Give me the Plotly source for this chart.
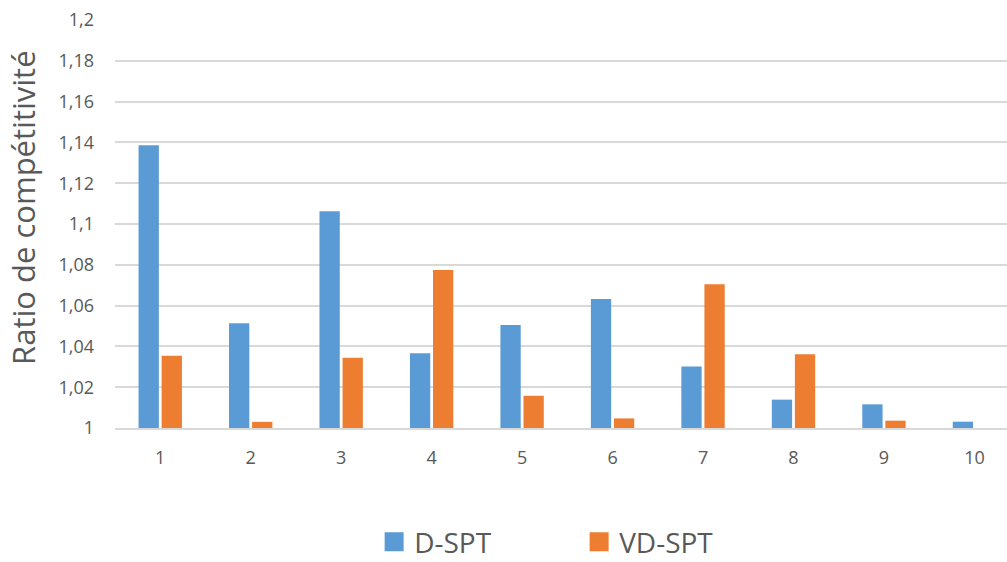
import plotly.graph_objects as go

categories = ["1", "2", "3", "4", "5", "6", "7", "8", "9", "10"]
d_spt = [1.1386, 1.0514, 1.1063, 1.0366, 1.0505, 1.0632, 1.0302, 1.0139, 1.0116, 1.0031]
vd_spt = [1.0354, 1.0030, 1.0344, 1.0775, 1.0158, 1.0047, 1.0705, 1.0361, 1.0036, 1.0]
y_ticks = [1.0, 1.02, 1.04, 1.06, 1.08, 1.1, 1.12, 1.14, 1.16, 1.18, 1.2]
y_ticktext = ["1", "1,02", "1,04", "1,06", "1,08", "1,1", "1,12", "1,14", "1,16", "1,18", "1,2"]
series_names = ["D-SPT", "VD-SPT"]
y_title = "Ratio de compétitivité"

BLUE = "#5B9BD5"
ORANGE = "#ED7D31"
GREY = "#595959"
FONT = "Open Sans, Liberation Sans, sans-serif"

fig = go.Figure()
fig.add_trace(go.Bar(x=categories, y=[v - 1 for v in d_spt], base=1, name=series_names[0],
                     marker=dict(color=BLUE, line=dict(width=0)), showlegend=False))
fig.add_trace(go.Bar(x=categories, y=[v - 1 for v in vd_spt], base=1, name=series_names[1],
                     marker=dict(color=ORANGE, line=dict(width=0)), showlegend=False))
# legend entries with larger square swatches
for nm, col in zip(series_names, [BLUE, ORANGE]):
    fig.add_trace(go.Scatter(x=[None], y=[None], mode="markers", name=nm,
                             marker=dict(symbol="square", size=16, color=col,
                                         line=dict(color=col, width=3))))

fig.update_layout(
    width=1007, height=562,
    margin=dict(l=115, r=0, t=20, b=134, autoexpand=False),
    paper_bgcolor="white", plot_bgcolor="white",
    barmode="group", bargap=0.49, bargroupgap=0.12,
    font=dict(family=FONT, color=GREY),
    showlegend=True,
    legend=dict(orientation="h", x=0.2905, xanchor="left", y=-0.2795, yanchor="middle",
                font=dict(size=28, color=GREY, family=FONT),
                entrywidth=160, entrywidthmode="pixels", itemsizing="trace",
                traceorder="normal"),
    xaxis=dict(type="category", range=[-0.5, 9.36], showgrid=False, showline=True,
               linecolor="#D9D9D9", linewidth=1.5, ticks="",
               tickfont=dict(size=18, color=GREY), ticklabelstandoff=13, automargin=False),
    yaxis=dict(range=[1, 1.2], tickvals=y_ticks, ticktext=y_ticktext, showgrid=True,
               gridcolor="#D9D9D9", gridwidth=1.5, zeroline=False, showline=False,
               tickfont=dict(size=18, color=GREY), ticks="", ticklabelstandoff=20,
               automargin=False),
    annotations=[dict(text=y_title, textangle=-90, xref="paper", yref="paper",
                      x=-0.104, y=0.54, xanchor="center", yanchor="middle",
                      showarrow=False, font=dict(size=31, color=GREY, family=FONT))],
)

fig.write_html("out.html", config={"displayModeBar": False},
               post_script="document.body.style.margin='0';")
